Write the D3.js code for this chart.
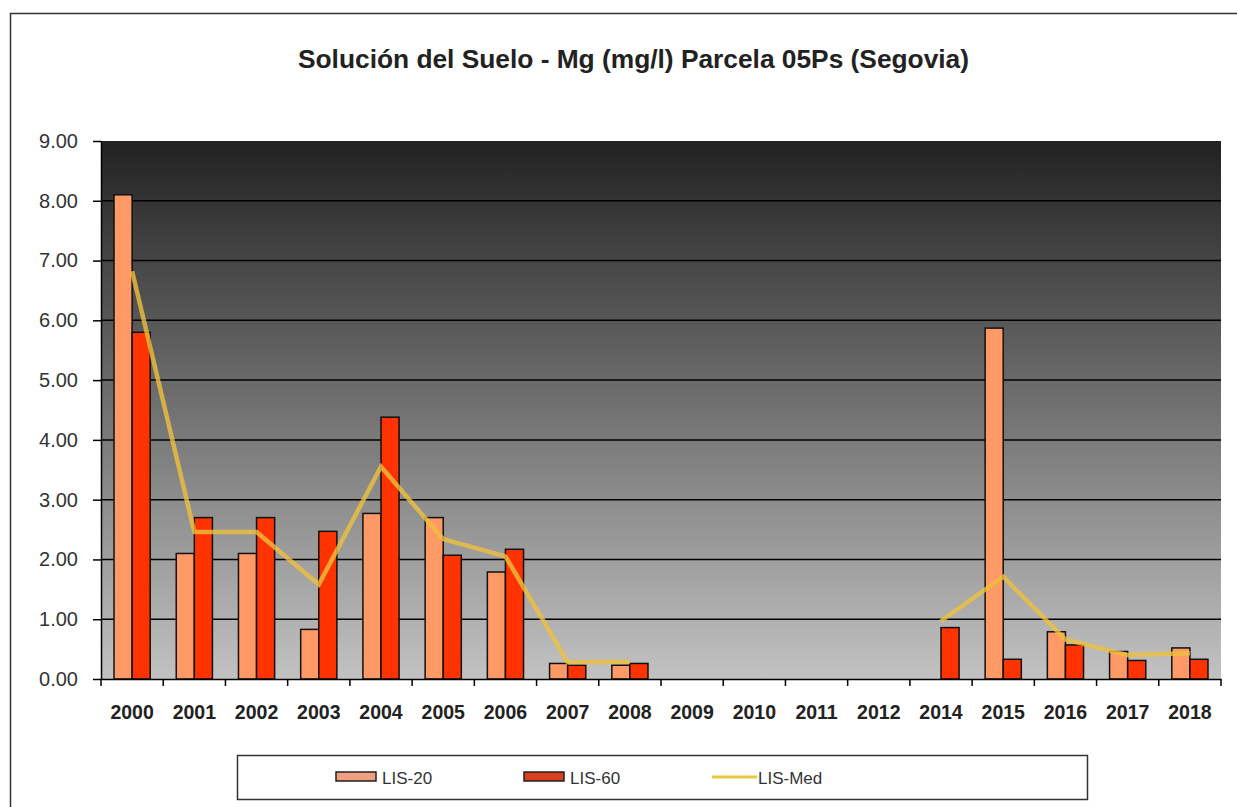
<!DOCTYPE html>
<html><head><meta charset="utf-8">
<script src="https://cdn.jsdelivr.net/npm/d3@7"></script>
<style>body{margin:0;background:#fff;}svg{display:block;font-family:"Liberation Sans",Arial,sans-serif;}</style>
</head><body>
<svg id="c" width="1237" height="807"></svg>
<script>
const categories = ["2000","2001","2002","2003","2004","2005","2006","2007","2008","2009","2010","2011","2012","2014","2015","2016","2017","2018"];
const lis20 = [8.10,2.10,2.10,0.83,2.77,2.70,1.79,0.26,0.23,null,null,null,null,null,5.87,0.79,0.46,0.52];
const lis60 = [5.80,2.70,2.70,2.47,4.38,2.07,2.17,0.23,0.26,null,null,null,null,0.86,0.33,0.57,0.31,0.33];
const lisMed = [6.82,2.46,2.46,1.58,3.55,2.34,2.05,0.28,0.29,null,null,null,null,0.97,1.71,0.66,0.40,0.43];
const yTicks = [0,1,2,3,4,5,6,7,8,9];
const title = "Solución del Suelo - Mg (mg/l) Parcela 05Ps (Segovia)";

const svg = d3.select("#c");
const L=101, R=1221, T=141, B=679;
// outer frame
svg.append("rect").attr("x",10.5).attr("y",13.5).attr("width",1240).attr("height",810)
  .attr("fill","none").attr("stroke","#333").attr("stroke-width",1.5);

const defs = svg.append("defs");
const g = defs.append("linearGradient").attr("id","bg").attr("x1",0).attr("y1",0).attr("x2",0).attr("y2",1);
g.append("stop").attr("offset","0%").attr("stop-color","#222222");
g.append("stop").attr("offset","100%").attr("stop-color","#c2c2c2");

const x = d3.scaleBand().domain(categories).range([L,R]).paddingInner(0).paddingOuter(0);
const y = d3.scaleLinear().domain([0,9]).range([B,T]);
const inner = d3.scaleBand().domain(["a","b"]).range([0,x.bandwidth()]).paddingInner(0).paddingOuter(0.72);

svg.append("rect").attr("x",L).attr("y",T).attr("width",R-L).attr("height",B-T).attr("fill","url(#bg)");

// grid
svg.append("g").selectAll("line").data(yTicks.filter(d=>d>0&&d<9)).join("line")
  .attr("x1",L).attr("x2",R).attr("y1",d=>y(d)).attr("y2",d=>y(d))
  .attr("stroke","#000").attr("stroke-width",1.5);

// bars
const bars = svg.append("g");
categories.forEach((c,i)=>{
  if(lis20[i]!=null) bars.append("rect").attr("x",x(c)+inner("a")).attr("y",y(lis20[i]))
    .attr("width",inner.bandwidth()).attr("height",y(0)-y(lis20[i]))
    .attr("fill","#FF9966").attr("stroke","#111").attr("stroke-width",1.5);
  if(lis60[i]!=null) bars.append("rect").attr("x",x(c)+inner("b")).attr("y",y(lis60[i]))
    .attr("width",inner.bandwidth()).attr("height",y(0)-y(lis60[i]))
    .attr("fill","#FF3300").attr("stroke","#111").attr("stroke-width",1.5);
});

// line
const line = d3.line().defined(d=>d.v!=null).x(d=>x(d.c)+x.bandwidth()/2).y(d=>y(d.v));
svg.append("path").datum(categories.map((c,i)=>({c,v:lisMed[i]})))
  .attr("d",line).attr("fill","none").attr("stroke","#EEC03C").attr("stroke-width",4.5).attr("stroke-opacity",0.8);

// axes
const ya = svg.append("g").attr("transform",`translate(${L},0)`)
  .call(d3.axisLeft(y).tickValues(yTicks).tickFormat(d3.format(".2f")).tickSize(8).tickSizeOuter(0));
ya.select(".domain").attr("stroke","#000").attr("stroke-width",1.5);
ya.selectAll(".tick line").attr("stroke","#000").attr("stroke-width",1.5);
ya.selectAll("text").attr("font-size",20).attr("fill","#333").attr("x",-23).attr("font-family","Liberation Sans, Arial");

const xa = svg.append("g").attr("transform",`translate(0,${B})`)
  .call(d3.axisBottom(x).tickSize(0).tickSizeOuter(0));
xa.select(".domain").attr("stroke","#000").attr("stroke-width",1.5);
xa.selectAll("text").attr("font-size",19.5).attr("font-weight","bold").attr("fill","#222").attr("dy","0").attr("y",40).attr("font-family","Liberation Sans, Arial");
// category tick marks at band boundaries
svg.append("g").selectAll("line").data(categories.concat(["end"])).join("line")
  .attr("x1",(d,i)=>L+i*x.bandwidth()).attr("x2",(d,i)=>L+i*x.bandwidth())
  .attr("y1",B).attr("y2",B+7).attr("stroke","#000").attr("stroke-width",1.5);

// title
svg.append("text").attr("x",298).attr("y",68)
  .attr("font-size",25).attr("font-weight","bold").attr("fill","#222")
  .attr("textLength",671).attr("lengthAdjust","spacingAndGlyphs").text(title);

// legend
svg.append("rect").attr("x",237.5).attr("y",755.5).attr("width",850).attr("height",44)
  .attr("fill","#fff").attr("stroke","#333").attr("stroke-width",1.5);
const leg = [{n:"LIS-20",t:"bar",c:"#F0A080",x:336},{n:"LIS-60",t:"bar",c:"#D84020",x:524},{n:"LIS-Med",t:"line",c:"#E8C840",x:712}];
leg.forEach(d=>{
  if(d.t==="bar") svg.append("rect").attr("x",d.x).attr("y",772).attr("width",40).attr("height",9)
     .attr("fill",d.c).attr("stroke","#222").attr("stroke-width",1.5);
  else svg.append("line").attr("x1",d.x).attr("x2",d.x+45).attr("y1",777).attr("y2",777).attr("stroke",d.c).attr("stroke-width",3);
  svg.append("text").attr("x",d.x+46).attr("y",784).attr("font-size",17).attr("fill","#333").text(d.n);
});
</script>
</body></html>
